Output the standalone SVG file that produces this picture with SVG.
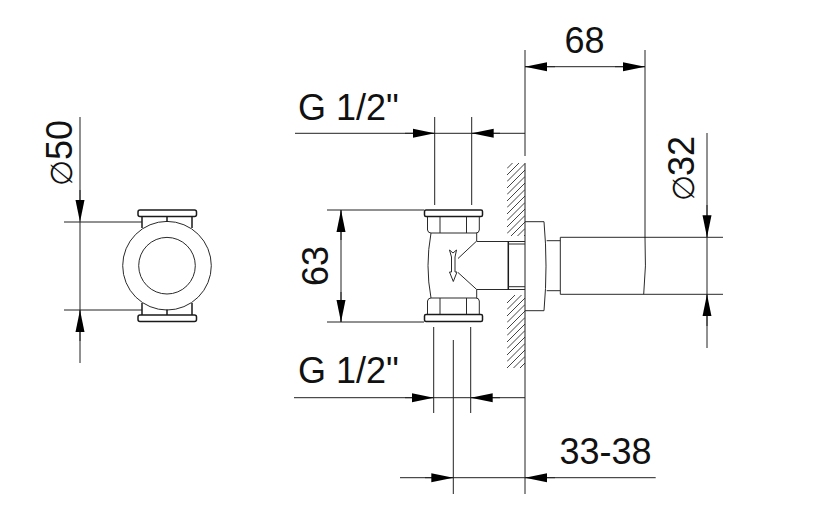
<svg xmlns="http://www.w3.org/2000/svg" width="821" height="519" viewBox="0 0 821 519">
<defs>
<marker id="ah" markerUnits="userSpaceOnUse" markerWidth="24" markerHeight="10" refX="22" refY="5" orient="auto"><path d="M0 .5L22 5L0 9.5z" fill="#000"/></marker>
<clipPath id="hc"><rect x="507" y="163" width="18" height="73"/><rect x="507" y="295" width="18" height="73"/></clipPath>
</defs>
<style>
.l{fill:none;stroke:#2a2a2a;stroke-width:1}
.t{fill:none;stroke:#1a1a1a;stroke-width:1.5}
.h{fill:none;stroke:#444;stroke-width:1}
.d{fill:none;stroke:#222;stroke-width:1}
.a{fill:none;stroke:#222;stroke-width:1;marker-end:url(#ah)}
text{font-family:"Liberation Sans",Arial,sans-serif;font-size:36px;fill:#111}
.s{font-family:"DejaVu Sans",sans-serif;font-size:30px;font-weight:200}
</style>
<rect width="821" height="519" fill="#fff"/>
<g id="front-view">
<circle class="l" cx="167" cy="265.7" r="44.3"/>
<circle class="l" cx="167" cy="265.7" r="28.3"/>
<rect class="t" x="138" y="210" width="58.5" height="6.5" rx="2"/>
<rect class="t" x="138" y="315" width="58.5" height="6.5" rx="2"/>
<path class="t" d="M142 216.500V228M192 216.500V228M142 303V315M192 303V315M167 216.500V222M167 309.500V315"/>
</g>
<g id="wall">
<path class="h" clip-path="url(#hc)" d="M507 168.500L525 150.500M507 175L525 157M507 181.500L525 163.500M507 188L525 170M507 194.500L525 176.500M507 201L525 183M507 207.500L525 189.500M507 214L525 196M507 220.500L525 202.500M507 227L525 209M507 233.500L525 215.500M507 240L525 222M507 246.500L525 228.500M507 253L525 235M507 303L525 285M507 309.500L525 291.500M507 316L525 298M507 322.500L525 304.500M507 329L525 311M507 335.500L525 317.500M507 342L525 324M507 348.500L525 330.500M507 355L525 337M507 361.500L525 343.500M507 368L525 350M507 374.500L525 356.500M507 381L525 363M507 387.500L525 369.500"/>
<path class="d" d="M525 163V494"/>
</g>
<g id="valve-body">
<rect class="t" x="424.500" y="210" width="58" height="6.500" rx="1.500"/>
<rect class="t" x="424.500" y="314.500" width="58" height="7" rx="1.500"/>
<path class="l" d="M427.500 217V230Q428 233 431 233H476Q479 233 479.300 230V217M440 217V233M466.500 217V233"/>
<path class="l" d="M427.500 314V301Q428 298 431 298H476Q479 298 479.300 301V314M440 298V314M466.500 298V314"/>
<path class="l" d="M431 233Q425 266 431 298M476.700 233V241M476.700 289.500V298"/>
<path class="l" d="M476.700 241L458 258.500M476.700 289.500L458 272.500"/>
<path class="l" d="M476.700 241.500H525M476.700 289.500H525"/>
<path class="t" d="M508.300 241.500V289.500"/>
<path class="l" d="M508.300 244H525M508.300 286.700H525"/>
<path class="l" d="M451.500 272V257L449.500 250L453 253L456.500 250L455 257V272L457 272L453.300 281.500L449.500 272Z"/>
</g>
<g id="flange">
<path class="l" d="M525 221.700H544Q548 266 544 310.700H525"/>
<path class="l" d="M546.700 240.700H560.300M546.700 290.700H560.300"/>
</g>
<g id="spout">
<path class="l" d="M723 237.300H560.300V294.300H723"/>
<path class="l" d="M645 237.300Q646.500 266 643.700 294.300"/>
</g>
<g id="connectors">
<path class="d" d="M80 117V200M80 222V331M80 331V363M64 222H142M64 310H142"/>
<path class="a" d="M80 190V222"/><path class="a" d="M80 341V310"/>
<path class="d" d="M327 210H424M327 322H424M341 210V322"/>
<path class="a" d="M341 240V210"/><path class="a" d="M341 292V322"/>
<path class="d" d="M295 133.300H525M434.700 117V205M471.700 117V205M525 50V156"/>
<path class="a" d="M405 133.300H434.700"/><path class="a" d="M500 133.300H471.700"/>
<path class="d" d="M294 397.700H525M433.700 327V413M470.700 327V413M453.300 340V494"/>
<path class="a" d="M405 397.700H433.700"/><path class="a" d="M500 397.700H470.700"/>
<path class="d" d="M400 477.700H655.700"/>
<path class="a" d="M425 477.700H453.300"/><path class="a" d="M555 477.700H525"/>
<path class="d" d="M525 66.700H645M645 50V238"/>
<path class="a" d="M555 66.700H525"/><path class="a" d="M615 66.700H645"/>
<path class="d" d="M707 133V348"/>
<path class="a" d="M707 205V237.300"/><path class="a" d="M707 326V294.300"/>
</g>
<g id="labels">
<text x="298" y="120">G 1/2"</text>
<text x="298" y="383">G 1/2"</text>
<text x="559.500" y="464">33-38</text>
<text x="564.500" y="53">68</text>
<text transform="translate(694 201) rotate(-90)"><tspan class="s" x="0">∅</tspan><tspan x="25">32</tspan></text>
<text transform="translate(72 186) rotate(-90)"><tspan class="s" x="0">∅</tspan><tspan x="26">50</tspan></text>
<text transform="translate(328 286) rotate(-90)">63</text>
</g>
</svg>
